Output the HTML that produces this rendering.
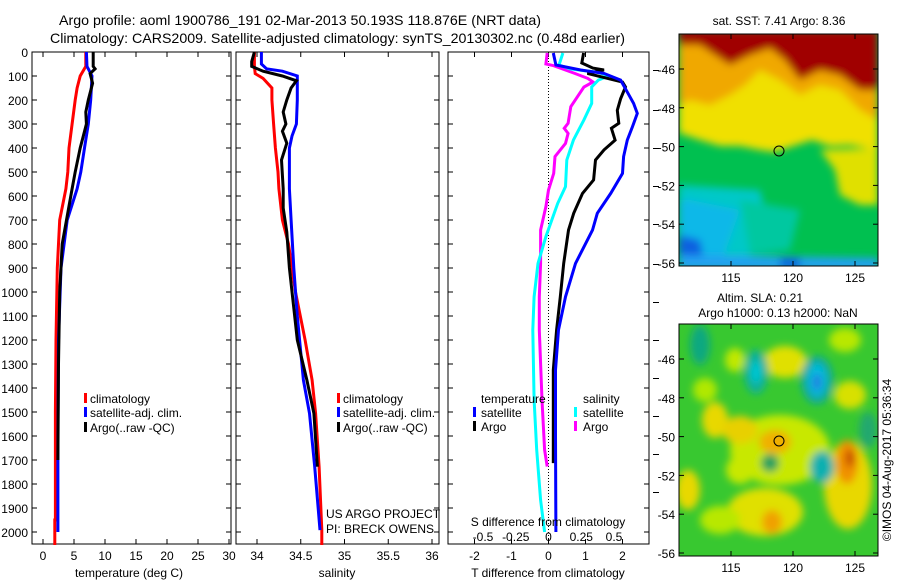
<!DOCTYPE html>
<html><head><meta charset="utf-8"><style>
html,body{margin:0;padding:0;background:#fff;}
svg{display:block;font-family:"Liberation Sans",sans-serif;}
text{font-size:12px;fill:#000;}
</style></head><body>
<svg id="chart" width="900" height="580" viewBox="0 0 900 580" xmlns="http://www.w3.org/2000/svg">
<defs>
<filter id="bl1" x="-10%" y="-10%" width="120%" height="120%"><feGaussianBlur stdDeviation="4"/></filter>
<filter id="bl2" x="-30%" y="-30%" width="160%" height="160%"><feGaussianBlur stdDeviation="4"/></filter>
<clipPath id="c1"><rect x="679" y="34" width="199" height="232"/></clipPath>
<clipPath id="c2"><rect x="679" y="324" width="199" height="232"/></clipPath>
</defs>
<text x="59" y="25" textLength="482" lengthAdjust="spacingAndGlyphs" style="font-size:14px">Argo profile: aoml 1900786_191 02-Mar-2013 50.193S 118.876E (NRT data)</text>
<text x="50" y="43" textLength="575" lengthAdjust="spacingAndGlyphs" style="font-size:14px">Climatology: CARS2009. Satellite-adjusted climatology: synTS_20130302.nc (0.48d earlier)</text>

<!-- SST map -->
<g clip-path="url(#c1)">
<rect x="679" y="34" width="199" height="232" fill="#00c050"/>
<g filter="url(#bl1)">
<path d="M679,185 L760,190 L770,230 L740,266 L679,266Z" fill="#00c8c8"/>
<path d="M690,200 L740,210 L720,266 L679,266 L679,200Z" fill="#10b8e8"/>
<path d="M679,235 L700,240 L705,266 L679,266Z" fill="#1060e0"/>
<path d="M679,255 L878,258 L878,270 L679,270Z" fill="#20a0f0"/>
<path d="M780,258 L800,258 L800,268 L780,268Z" fill="#1060e0"/>
<path d="M740,200 L800,210 L790,250 L750,255Z" fill="#00c8a0"/>
<path d="M679,30 L878,30 L878,150 L850,145 L830,146 L812,140 L790,147 L775,152 L760,150 L740,146 L720,146 L700,140 L679,133Z" fill="#f0e000"/>
<path d="M820,150 L878,148 L878,205 L860,205 L840,195 L835,170Z" fill="#e0e000"/>
<path d="M679,30 L878,30 L878,120 L860,110 L840,90 L820,85 L800,95 L780,80 L760,70 L745,85 L730,95 L710,105 L690,100 L679,105Z" fill="#f0a800"/>
<path d="M679,30 L878,30 L878,90 L860,90 L840,75 L820,70 L800,80 L785,60 L770,48 L750,55 L730,65 L715,55 L700,45 L679,45Z" fill="#a00000"/>
</g>
</g>
<rect x="679" y="34" width="199" height="232" fill="none" stroke="#000"/>
<circle cx="779" cy="151" r="5" fill="none" stroke="#000"/>
<text x="779" y="25" text-anchor="middle">sat. SST: 7.41  Argo: 8.36</text>

<!-- SLA map -->
<g clip-path="url(#c2)">
<rect x="679" y="324" width="199" height="232" fill="#38c830"/>
<g filter="url(#bl2)">
<ellipse cx="780" cy="450" rx="50" ry="35" fill="#c8e800"/>
<ellipse cx="785" cy="362" rx="22" ry="16" fill="#e0e000"/>
<ellipse cx="735" cy="360" rx="10" ry="12" fill="#c0e800"/>
<ellipse cx="845" cy="340" rx="16" ry="12" fill="#b8e800"/>
<ellipse cx="715" cy="420" rx="13" ry="18" fill="#e8d800"/>
<ellipse cx="705" cy="390" rx="12" ry="12" fill="#b0e800"/>
<ellipse cx="850" cy="395" rx="16" ry="14" fill="#d8e000"/>
<ellipse cx="688" cy="490" rx="12" ry="20" fill="#e8d800"/>
<ellipse cx="765" cy="512" rx="38" ry="24" fill="#e0e000"/>
<ellipse cx="720" cy="520" rx="20" ry="14" fill="#b8e800"/>
<ellipse cx="848" cy="485" rx="24" ry="44" fill="#e8d800"/>
<ellipse cx="740" cy="470" rx="14" ry="14" fill="#c8e800"/>
<ellipse cx="740" cy="430" rx="18" ry="14" fill="#e8d000"/>
<ellipse cx="775" cy="442" rx="16" ry="12" fill="#f0b000"/>
<ellipse cx="772" cy="522" rx="10" ry="12" fill="#f0a000"/>
<ellipse cx="847" cy="462" rx="11" ry="22" fill="#f09000"/>
<ellipse cx="850" cy="458" rx="4" ry="9" fill="#c04000"/>
<ellipse cx="700" cy="345" rx="10" ry="20" fill="#10a880"/>
<ellipse cx="756" cy="372" rx="12" ry="22" fill="#10b098"/>
<ellipse cx="756" cy="372" rx="5" ry="11" fill="#00c8d8"/>
<ellipse cx="817" cy="380" rx="16" ry="24" fill="#10a8a0"/>
<ellipse cx="817" cy="380" rx="9" ry="16" fill="#00c0e0"/>
<ellipse cx="817" cy="382" rx="4" ry="9" fill="#2070e0"/>
<ellipse cx="822" cy="467" rx="12" ry="16" fill="#10b0b0"/>
<ellipse cx="770" cy="463" rx="9" ry="9" fill="#20a060"/>
<ellipse cx="868" cy="430" rx="9" ry="18" fill="#20a870"/>
</g>
</g>
<rect x="679" y="324" width="199" height="232" fill="none" stroke="#000"/>
<circle cx="779" cy="441" r="5" fill="none" stroke="#000"/>
<text x="760" y="302" text-anchor="middle">Altim. SLA: 0.21</text>
<text x="778" y="317" text-anchor="middle">Argo h1000: 0.13 h2000: NaN</text>
<text transform="translate(891,460) rotate(-90)" text-anchor="middle">©IMOS 04-Aug-2017 05:36:34</text>
<g id="mapticks"></g>
<g id="panels"></g>
</svg>
<script>
// ===== data =====
const depthTicks=[0,100,200,300,400,500,600,700,800,900,1000,1100,1200,1300,1400,1500,1600,1700,1800,1900,2000];
const tTicks=[0,5,10,15,20,25,30];
const sTicks=[34,34.5,35,35.5,36];
const dTTicks=[-2,-1,0,1,2];
const dSTicks=[-0.5,-0.25,0,0.25,0.5];
const dSTickLabels=["-0.5","-0.25","0","0.25","0.5"];
const latTicks=[-46,-48,-50,-52,-54,-56];
const lonTicks=[115,120,125];

const tClimD=[0,60,100,150,200,300,400,500,570,700,900,1200,1500,1950,1950,2054];
const tClimV=[6.9,6.9,6.0,5.5,5.2,4.7,4.2,4.0,3.7,2.7,2.3,2.1,2.0,2.0,1.9,1.9];
const tSatD=[0,60,80,100,200,300,400,500,570,700,900,1200,1600,2000];
const tSatV=[7.0,7.1,7.5,7.9,7.7,7.3,6.7,6.1,5.5,3.9,2.9,2.5,2.4,2.4];
const tArgoD=[0,60,70,90,130,200,250,300,360,400,500,570,800,1000,1300,1700];
const tArgoV=[8.1,8.1,8.4,7.6,8.0,7.3,6.9,7.0,6.4,6.0,5.2,4.7,3.1,2.7,2.5,2.4];

const sClimD=[0,60,90,110,150,200,300,400,500,570,700,800,1000,1200,1367,1506,1728,1992,2054];
const sClimV=[33.97,33.97,33.98,34.07,34.17,34.17,34.19,34.21,34.24,34.25,34.29,34.36,34.44,34.55,34.63,34.67,34.71,34.74,34.74];
const sSatD=[0,50,70,80,100,200,300,350,400,570,700,900,1100,1367,1506,1728,1992];
const sSatV=[34.05,34.05,34.11,34.29,34.46,34.46,34.45,34.40,34.37,34.37,34.39,34.42,34.46,34.53,34.60,34.66,34.72];
const sArgoD=[0,40,60,80,100,120,150,200,250,300,330,380,450,570,650,750,900,1200,1367,1506,1728];
const sArgoV=[33.97,33.94,33.94,34.07,34.29,34.45,34.39,34.34,34.30,34.33,34.29,34.34,34.28,34.30,34.30,34.34,34.37,34.46,34.57,34.65,34.69];

const dTSatD=[4,54,75,89,117,172,214,256,311,367,436,506,589,672,742,881,1020,1158,1325,1600,2000];
const dTSatV=[0.13,0.2,0.87,1.5,1.95,2.15,2.3,2.4,2.27,2.13,2.03,2.0,1.68,1.32,1.19,0.73,0.46,0.27,0.19,0.19,0.2];
const dTArgoD=[4,46,67,75,89,125,146,195,243,297,318,367,408,450,533,589,672,742,881,1020,1158,1325,1713];
const dTArgoV=[0.95,0.9,1.2,1.5,1.05,2.0,2.08,1.95,1.86,1.9,1.7,1.8,1.5,1.27,1.22,0.92,0.68,0.54,0.41,0.32,0.22,0.13,0.13];
const dSSatD=[4,54,71,85,99,117,146,214,283,367,450,561,631,769,881,1020,1158,1450,1658,1867,2000];
const dSSatV=[0.11,0.08,0.17,0.38,0.46,0.38,0.33,0.33,0.27,0.19,0.14,0.13,0.07,-0.02,-0.08,-0.11,-0.12,-0.11,-0.09,-0.06,-0.03];
const dSArgoD=[4,50,57,89,110,125,146,228,297,318,339,381,436,506,575,644,742,881,1020,1158,1450,1658,1727];
const dSArgoV=[-0.01,-0.02,0.04,0.2,0.3,0.34,0.27,0.17,0.15,0.12,0.15,0.13,0.05,0.04,0,-0.02,-0.06,-0.06,-0.07,-0.07,-0.05,-0.03,-0.01];

// ===== layout =====
const NS="http://www.w3.org/2000/svg";
const top0=52, bot=544;
function yD(d){return top0+d*0.24;}
function xT(t){return 43+t*6.2;}
function xS(s){return 257+(s-34)*87.5;}
function xDT(v){return 548.5+v*37;}
function xDS(v){return 548.5+v*131;}
const panels=document.getElementById('panels');
function mk(tag,attrs,parent){const e=document.createElementNS(NS,tag);for(const k in attrs)e.setAttribute(k,attrs[k]);(parent||panels).appendChild(e);return e;}

function stepPath(D,V,fx){
  let d='';
  for(let i=0;i<D.length;i++){
    const x=fx(V[i]).toFixed(1), y=yD(D[i]).toFixed(1);
    d+=(i?'L':'M')+x+','+y;
  }
  return d;
}
function line(D,V,fx,color,name){
  const p=mk('path',{d:stepPath(D,V,fx),fill:'none',stroke:color,'stroke-width':3,'stroke-linejoin':'miter'});
  
  
}
function frame(x0,x1,name){
  const r=mk('rect',{x:x0,y:top0,width:x1-x0,height:bot-top0,fill:'none',stroke:'#000'});
  
  
  depthTicks.forEach(d=>{
    mk('line',{x1:x0,x2:x0+5,y1:yD(d),y2:yD(d),stroke:'#000'});
    mk('line',{x1:x1,x2:x1-5,y1:yD(d),y2:yD(d),stroke:'#000'});
  });
}
function xticks(ticks,labels,fx,x0,x1,ly){
  ticks.forEach((t,i)=>{
    const x=fx(t);
    mk('line',{x1:x,x2:x,y1:bot,y2:bot-5,stroke:'#000'});
    mk('line',{x1:x,x2:x,y1:top0,y2:top0+5,stroke:'#000'});
    const tx=mk('text',{x:x,y:ly,'text-anchor':'middle'});
    tx.textContent=labels[i];
    
    
  });
}
function label(x,y,s,name,anchor){
  const t=mk('text',{x:x,y:y,'text-anchor':anchor||'start'});
  t.textContent=s;
  
  
}
function legMark(x,y,color){
  const r=mk('rect',{x:x,y:y-10,width:3,height:10,fill:color});
  
  
}

depthTicks.forEach(d=>{
  const t=mk('text',{x:28,y:yD(d)+5,'text-anchor':'end'});
  t.textContent=String(d);
  
  
});

// panel 1
frame(32,231,'temperature-panel');
xticks(tTicks,tTicks.map(String),xT,32,231,560);
label(129,577,'temperature (deg C)','temperature-x-axis-title','middle');
line(tClimD,tClimV,xT,'#ff0000','temp-climatology-line');
line(tSatD,tSatV,xT,'#0000ff','temp-satellite-line');
line(tArgoD,tArgoV,xT,'#000000','temp-argo-line');
legMark(84,403,'#ff0000');label(90,403,'climatology','legend-climatology');
legMark(84,417,'#0000ff');label(90,417,'satellite-adj. clim.','legend-satellite');
legMark(84,432,'#000000');label(90,432,'Argo(..raw -QC)','legend-argo');

// panel 2
frame(236,439,'salinity-panel');
xticks(sTicks,sTicks.map(String),xS,236,439,560);
label(337,577,'salinity','salinity-x-axis-title','middle');
line(sClimD,sClimV,xS,'#ff0000','sal-climatology-line');
line(sSatD,sSatV,xS,'#0000ff','sal-satellite-line');
line(sArgoD,sArgoV,xS,'#000000','sal-argo-line');
legMark(337,403,'#ff0000');label(343,403,'climatology','legend-climatology');
legMark(337,417,'#0000ff');label(343,417,'satellite-adj. clim.','legend-satellite');
legMark(337,432,'#000000');label(343,432,'Argo(..raw -QC)','legend-argo');
label(326,518,'US ARGO PROJECT','project-label');
label(326,533,'PI: BRECK OWENS','pi-label');

// panel 3
frame(448,649,'difference-panel');
xticks(dTTicks,dTTicks.map(String),xDT,448,649,560);
label(548,577,'T difference from climatology','t-diff-x-axis-title','middle');
const zl=mk('line',{x1:xDT(0),x2:xDT(0),y1:top0,y2:bot,stroke:'#000','stroke-dasharray':'1,2'});


line(dSArgoD,dSArgoV,xDS,'#ff00ff','s-diff-argo-line');
line(dSSatD,dSSatV,xDS,'#00ffff','s-diff-satellite-line');
line(dTArgoD,dTArgoV,xDT,'#000000','t-diff-argo-line');
line(dTSatD,dTSatV,xDT,'#0000ff','t-diff-satellite-line');
dSTicks.forEach((v,i)=>{
  const t=mk('text',{x:xDS(v),y:541,'text-anchor':'middle'});
  t.textContent=dSTickLabels[i];
  
  
});
label(548,526,'S difference from climatology','s-diff-axis-title','middle');
[70,110,148,186,224,264,302,340,378,416,454,492].forEach(y=>mk('line',{x1:653,x2:659,y1:y+0.5,y2:y+0.5,stroke:'#000'}));
label(481,403,'temperature','legend-temperature-heading');
legMark(473,417,'#0000ff');label(481,417,'satellite','legend-t-satellite');
legMark(473,431,'#000000');label(481,431,'Argo','legend-t-argo');
label(583,403,'salinity','legend-salinity-heading');
legMark(574,417,'#00ffff');label(583,417,'satellite','legend-s-satellite');
legMark(574,431,'#ff00ff');label(583,431,'Argo','legend-s-argo');

// map ticks
const mt=document.getElementById('mapticks');
[[34,266,282],[324,556,572]].forEach(([y0,y1,ly])=>{
  latTicks.forEach(la=>{
    const yy=y0+35+(-46-la)*19.4;
    mk('line',{x1:679,x2:684,y1:yy,y2:yy,stroke:'#000'},mt);
    mk('line',{x1:878,x2:873,y1:yy,y2:yy,stroke:'#000'},mt);
    const t=mk('text',{x:675,y:yy+5,'text-anchor':'end'},mt);
    t.textContent=String(la);
    
    
  });
  lonTicks.forEach(lo=>{
    const x=731+(lo-115)*12.4;
    mk('line',{x1:x,x2:x,y1:y1,y2:y1-5,stroke:'#000'},mt);
    mk('line',{x1:x,x2:x,y1:y0,y2:y0+5,stroke:'#000'},mt);
    const t=mk('text',{x:x,y:ly,'text-anchor':'middle'},mt);
    t.textContent=String(lo);
    
    
  });
});
</script>
</body></html>
